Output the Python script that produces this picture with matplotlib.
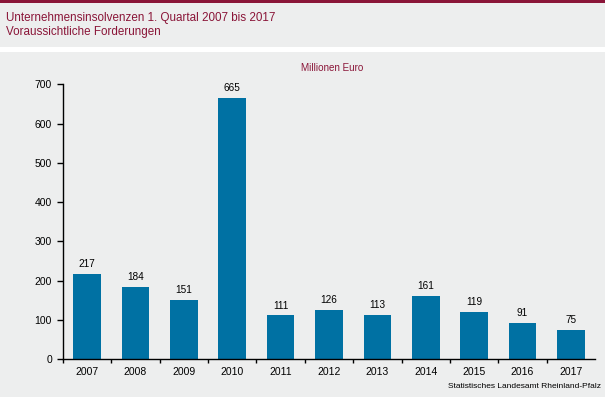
import matplotlib
matplotlib.use('Agg')
import matplotlib.pyplot as plt
from matplotlib.patches import Rectangle

# Chart data
years = ['2007', '2008', '2009', '2010', '2011', '2012', '2013', '2014', '2015', '2016', '2017']
values = [217, 184, 151, 665, 111, 126, 113, 161, 119, 91, 75]
y_ticks = [0, 100, 200, 300, 400, 500, 600, 700]

title_line1 = 'Unternehmensinsolvenzen 1. Quartal 2007 bis 2017'
title_line2 = 'Voraussichtliche Forderungen'
unit_label = 'Millionen Euro'
source_label = 'Statistisches Landesamt Rheinland-Pfalz'

bg = '#edeeee'
maroon = '#8a1538'
bar_color = '#0071a3'

plt.rcParams['font.family'] = ['Liberation Sans', 'DejaVu Sans']

W, H = 605, 397
fig = plt.figure(figsize=(W / 100, H / 100), dpi=100)
fig.patch.set_facecolor('white')


def fy(px):
    # pixel row from top -> figure fraction
    return 1 - px / H


# Background bands (behind the axes)
fig.patches.append(Rectangle((0, fy(47)), 1, fy(2) - fy(47), transform=fig.transFigure,
                             facecolor=bg, edgecolor='none', zorder=-10))
fig.patches.append(Rectangle((0, 0), 1, fy(52), transform=fig.transFigure,
                             facecolor=bg, edgecolor='none', zorder=-10))
fig.patches.append(Rectangle((0, fy(2.5)), 1, 1 - fy(2.5), transform=fig.transFigure,
                             facecolor=maroon, edgecolor='none', zorder=-10))

# Titles
fig.text(6 / W, fy(17.5), title_line1, color=maroon, fontsize=8.4, va='center', ha='left')
fig.text(6 / W, fy(32), title_line2, color=maroon, fontsize=8.4, va='center', ha='left')
fig.text(332 / W, fy(68), unit_label, color=maroon, fontsize=7.1, va='center', ha='center')
fig.text(601 / W, fy(386), source_label, color='black', fontsize=6.0, va='center', ha='right')

# Plot area
left, right, top, bottom = 63, 595, 84.3, 359
ax = fig.add_axes([left / W, fy(bottom), (right - left) / W, (bottom - top) / H])
ax.set_facecolor('none')

x = list(range(len(years)))
bars = ax.bar(x, values, width=0.57, color=bar_color, zorder=2)
for xi, v in zip(x, values):
    ax.annotate(str(v), (xi, v), xytext=(0, 3.5), textcoords='offset points',
                ha='center', va='bottom', fontsize=7.2, color='black')

ax.set_xlim(-0.5, len(years) - 0.5)
ax.set_ylim(0, 700)
ax.set_yticks(y_ticks)
ax.set_yticklabels([str(t) for t in y_ticks], fontsize=7.5)

# category labels centred, tick marks on category boundaries
ax.set_xticks([i - 0.5 for i in range(len(years))])
ax.set_xticklabels([])
ax.set_xticks(x, minor=True)
ax.set_xticklabels(years, minor=True, fontsize=7.5)
ax.tick_params(axis='x', which='minor', length=0, pad=6)
ax.tick_params(axis='x', which='major', length=3, width=1, direction='out')
ax.tick_params(axis='y', length=4, width=1, direction='out', pad=4)

for side in ['top', 'right']:
    ax.spines[side].set_visible(False)
ax.spines['left'].set_linewidth(1)
ax.spines['bottom'].set_linewidth(1)

fig.savefig('out.png', dpi=100, facecolor=fig.get_facecolor())
